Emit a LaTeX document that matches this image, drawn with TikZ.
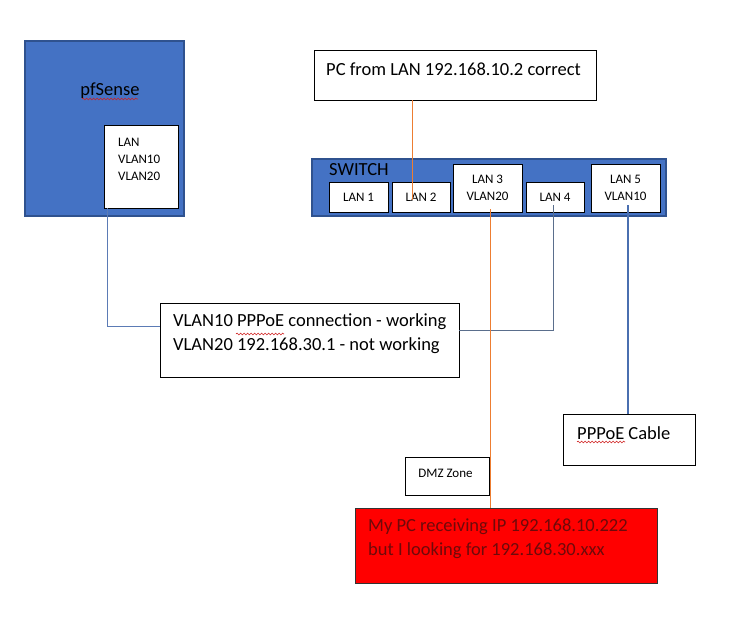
\documentclass[tikz,border=0pt]{standalone}
\usepackage{fontspec}
\setmainfont{Carlito}
\usepackage{tikz}
\usetikzlibrary{calc,decorations.pathmorphing}
\definecolor{nwblue}   {HTML}{4472C4}
\definecolor{nwrim}    {HTML}{2F528F}
\definecolor{nwwire}   {HTML}{5B7BB5}
\definecolor{nwgray}   {HTML}{5A6E8C}
\definecolor{nwcable}  {HTML}{4A6FB0}
\definecolor{nworange} {HTML}{ED7D31}
\definecolor{nwred}    {HTML}{FF0000}
\definecolor{nwmaroon} {HTML}{6E0A0A}
\definecolor{nwspell}  {HTML}{D02020}
\tikzset{
  nwdev/.style={draw=nwrim, fill=nwblue, line width=1.6pt, inner sep=0pt},
  nwbox/.style={draw=black, fill=white, line width=0.9pt, inner sep=0pt},
  nwport/.style={nwbox, align=center, font=\fontsize{13}{17}\selectfont},
  nwalert/.style={draw=black!80, fill=nwred, line width=0.9pt, inner sep=0pt},
  nwtext/.style={anchor=west, align=left, inner sep=0pt,
                 font=\fontsize{18.5}{24}\selectfont},
  nwsmall/.style={inner sep=0pt, align=left, font=\fontsize{13}{17}\selectfont},
  nwlink/.style={draw=nwwire, line width=0.9pt},
  nwlan/.style={draw=nworange, line width=0.9pt},
  nwuplink/.style={draw=nwcable, line width=1.8pt},
  nwsquiggle/.style={draw=nwspell, line width=0.6pt,
                     decorate, decoration={snake, amplitude=0.9pt, segment length=3.5pt}},
}

\begin{document}
\begin{tikzpicture}[x=1pt,y=-1pt]
  \useasboundingbox[fill=white] (0,0) rectangle (730,622);
  % firewall
  \node[nwdev, minimum width=159pt, minimum height=175pt] (pfs) at (104.5,128.5) {};
  \node[nwtext, anchor=center] (pfst) at (110,91) {pfSense};
  \node[nwbox, minimum width=74pt, minimum height=83pt] (pfport) at (141,166.5) {};
  \node[nwsmall, anchor=west] (pfportt) at (118,159) {LAN\\VLAN10\\VLAN20};
  % pc on lan
  \node[nwbox, minimum width=282pt, minimum height=50pt] (pc) at (455,75) {};
  \node[nwtext] (pct) at (326,69) {PC from LAN 192.168.10.2 correct};
  % switch and ports
  \node[nwdev, minimum width=354pt, minimum height=57pt] (sw) at (489,187.5) {};
  \node[nwtext] (swt) at (329,170) {SWITCH};
  \node[nwport, minimum width=59pt, minimum height=30pt] (lan1) at (358.5,197) {LAN 1};
  \node[nwport, minimum width=58pt, minimum height=30pt] (lan2) at (421,197) {LAN 2};
  \node[nwport, minimum width=69pt, minimum height=48pt] (lan3) at (487.5,188) {LAN 3\\VLAN20};
  \node[nwport, minimum width=58pt, minimum height=30pt] (lan4) at (555,197) {LAN 4};
  \node[nwport, minimum width=69pt, minimum height=48pt] (lan5) at (625.5,188) {LAN 5\\VLAN10};
  % notes
  \node[nwbox, minimum width=299pt, minimum height=74pt] (status) at (309.5,340) {};
  \node[nwtext] (statust) at (173,334)
    {VLAN10 PPPoE connection - working\\VLAN20 192.168.30.1 - not working};
  \node[nwbox, minimum width=132pt, minimum height=51pt] (ppp) at (629,439.5) {};
  \node[nwtext] (pppt) at (577,433) {PPPoE Cable};
  \node[nwbox, minimum width=84pt, minimum height=38pt] (dmz) at (447,476) {};
  \node[nwsmall] (dmzt) at (445.5,473) {DMZ Zone};
  \node[nwalert, minimum width=302pt, minimum height=75pt] (mypc) at (506,545.5) {};
  \node[nwtext, text=nwmaroon] (mypct) at (368,538.5)
    {My PC receiving IP 192.168.10.222\\but I looking for 192.168.30.xxx};
  % wires
  \coordinate (j1) at (107,326);
  \coordinate (j2) at (553,330);
  \coordinate (o1) at (412,0);
  \coordinate (o2) at (490,0);
  \draw[nwlink] (pfport.south -| j1) -- (j1) -- (status.west |- j1);
  \draw[nwlink, draw=nwgray] (j2 |- lan4.south) ++(0,-7) -- (j2) -- (status.east |- j2);
  \draw[nwlan] (pc.south -| o1) -- ($(lan2.center -| o1)+(0,3)$);
  \draw[nwlan] ($(lan3.south -| o2)+(0,-3)$) -- (mypc.north -| o2);
  \draw[nwuplink] ($(ppp.north |- lan5.south)+(-1,-7)$) -- ($(ppp.north)+(-1,0)$);
  % spell marks
  \draw[nwsquiggle] (82,99) -- (138,99);
  \draw[nwsquiggle] (236,334) -- (284,334);
  \draw[nwsquiggle] (577,442) -- (625,442);
\end{tikzpicture}
\end{document}
